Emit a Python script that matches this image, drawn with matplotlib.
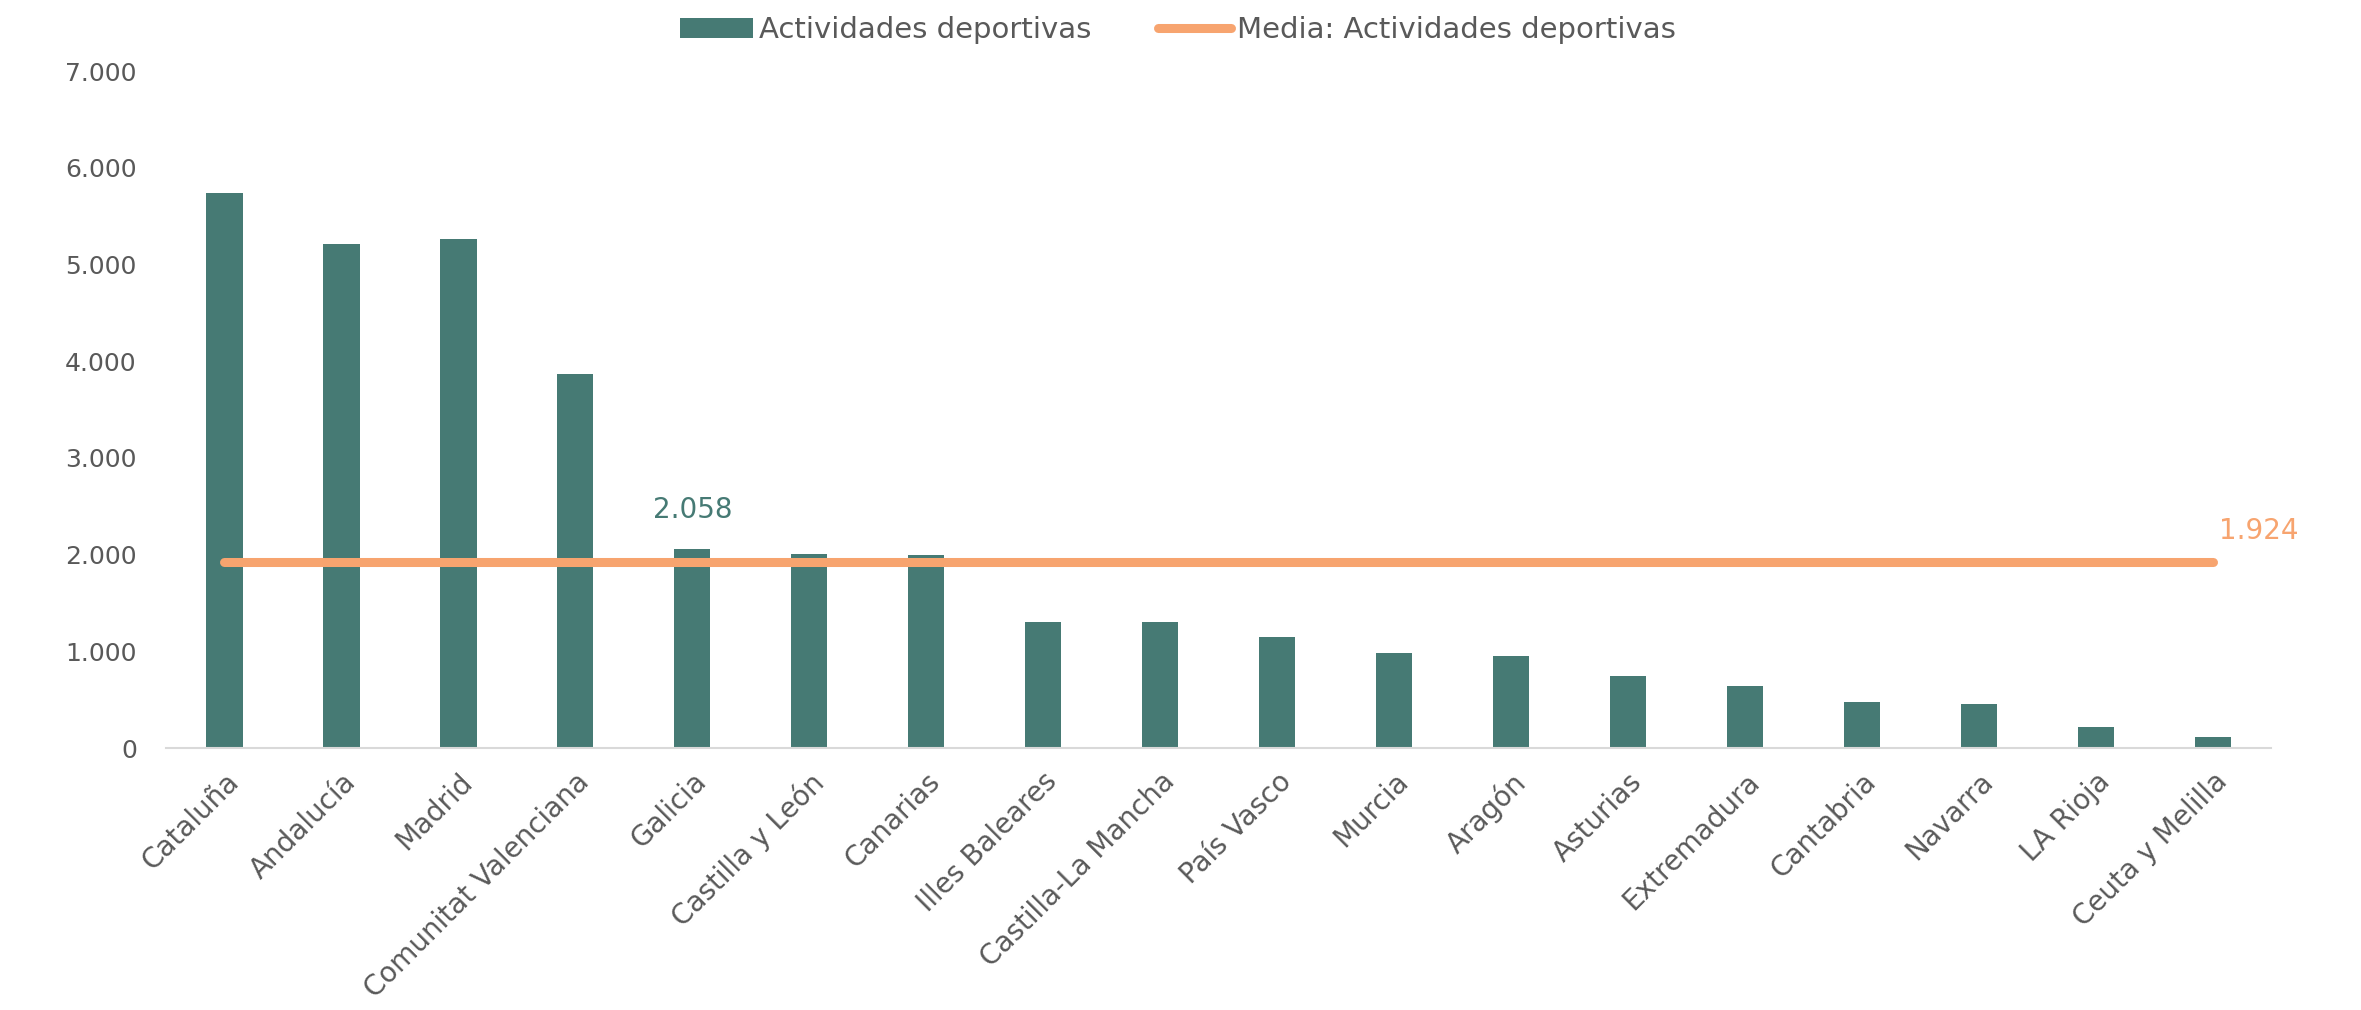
import matplotlib
matplotlib.use('Agg')
import matplotlib.pyplot as plt
import numpy as np

# regiones y numero de actividades deportivas
regiones = ['Cataluña', 'Andalucía', 'Madrid', 'Comunitat Valenciana', 'Galicia',
            'Castilla y León', 'Canarias', 'Illes Baleares', 'Castilla-La Mancha',
            'País Vasco', 'Murcia', 'Aragón', 'Asturias', 'Extremadura',
            'Cantabria', 'Navarra', 'LA Rioja', 'Ceuta y Melilla']
actividades = [5740, 5210, 5260, 3870, 2058, 2010, 2000, 1300, 1300,
               1150, 980, 950, 740, 640, 480, 460, 220, 110]
media = 1924
y_ticks = [0, 1000, 2000, 3000, 4000, 5000, 6000, 7000]

color_barra = '#467A74'
color_media = '#F7A46F'
color_texto = '#595959'

plt.rcParams['font.family'] = ['DejaVu Sans']

fig = plt.figure(figsize=(23.61, 10.10), dpi=100)
ax = fig.add_axes([0.0703, 0.2594, 0.8917, 0.6703])

x = np.arange(len(regiones))
barras = ax.bar(x, actividades, width=0.31, color=color_barra, label='Actividades deportivas', zorder=2)
linea, = ax.plot(x, [media] * len(x), color=color_media, linewidth=6.5, solid_capstyle='round',
                 label='Media: Actividades deportivas', zorder=3)

# etiquetas de datos
ax.text(x[4], actividades[4] + 260, '2.058', color=color_barra, fontsize=20,
        ha='center', va='bottom')
ax.text(x[-1] + 0.05, media + 180, '1.924', color=color_media, fontsize=20,
        ha='left', va='bottom')

ax.set_xlim(-0.5, len(regiones) - 0.5)
ax.set_ylim(0, 7000)
ax.set_yticks(y_ticks)
ax.set_yticklabels([f'{v:,}'.replace(',', '.') for v in y_ticks])
ax.set_xticks(x)
ax.set_xticklabels(regiones, rotation=45, ha='right', rotation_mode='anchor')
ax.tick_params(axis='y', length=0, pad=21, labelsize=18, labelcolor=color_texto)
ax.tick_params(axis='x', length=0, pad=14, labelsize=20, labelcolor=color_texto)

for s in ['top', 'right', 'left']:
    ax.spines[s].set_visible(False)
ax.spines['bottom'].set_color('#D9D9D9')
ax.spines['bottom'].set_linewidth(1.5)

leg = fig.legend([barras, linea], ['Actividades deportivas', 'Media: Actividades deportivas'],
                 loc='upper center', bbox_to_anchor=(0.499, 1.01), ncol=2, frameon=False,
                 fontsize=21, handlelength=2.5, handletextpad=0.2, columnspacing=2.3)
for t in leg.get_texts():
    t.set_color(color_texto)

fig.savefig('out.png', dpi=100)
